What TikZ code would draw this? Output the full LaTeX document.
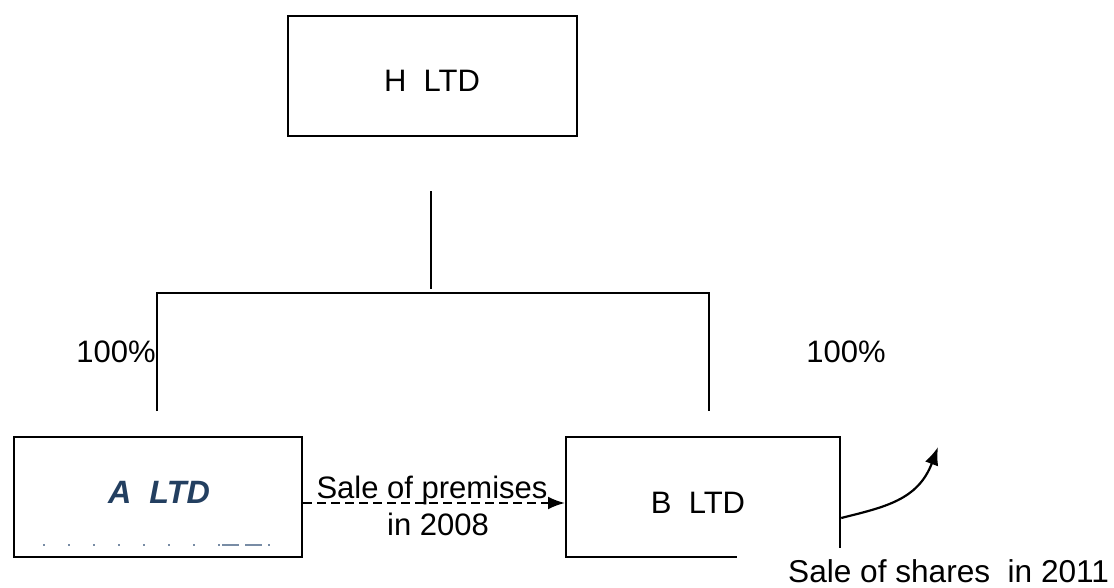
\documentclass[tikz,border=0pt]{standalone}
\usepackage{fontspec}
\setmainfont{Liberation Sans}
\usetikzlibrary{arrows.meta}
\definecolor{abluetext}{RGB}{35,63,96}
\definecolor{afaint}{RGB}{120,140,165}
\tikzset{
  boxnode/.style={draw=black, line width=2.2pt, inner sep=0pt, anchor=north west},
  lbl/.style={inner sep=0pt, anchor=base, font=\fontsize{31}{37}\selectfont},
  treeline/.style={line width=2.2pt, line cap=rect},
  arr/.style={line width=2.2pt, -{Latex[length=18pt,width=14pt]}},
}
\begin{document}
\begin{tikzpicture}[x=1pt,y=-1pt]
\useasboundingbox (0,0) rectangle (1114,588);
% boxes
\node[boxnode, minimum width=289pt, minimum height=120pt] (hbox) at (287,15) {};
\node[boxnode, minimum width=288pt, minimum height=120pt] (abox) at (13,436) {};
\node[boxnode, minimum width=274pt, minimum height=120pt] (bbox) at (565,436) {};
% box texts
\node[lbl] (htext) at (432,92) {H~~LTD};
\node[lbl, font=\fontsize{32.3}{38}\selectfont\bfseries\itshape, text=abluetext] (atext) at (159,503) {A~~LTD};
\node[lbl] (btext) at (698,513) {B~~LTD};
% faint clipped remnant in A box
\coordinate (fa) at (43,545);
\coordinate (fb) at (222,545);
\coordinate (fc) at (270,545);
\draw[afaint, line width=1.5pt, dash pattern=on 2pt off 23pt] (fa) -- (fb);
\draw[afaint, line width=1.5pt, dash pattern=on 17pt off 6pt] (fb) -- (fc);
% tree
\coordinate (t1) at (431,192);
\coordinate (t2) at (431,288);
\coordinate (hl) at (157,293);
\coordinate (hr) at (709,293);
\coordinate (ld) at (157,411);
\coordinate (rd) at (709,411);
\draw[treeline] (t1) -- (t2);
\draw[line width=2.2pt] (ld) -- (hl) -- (hr) -- (rd);
\node[lbl] (pa) at (116,362) {100\%};
\node[lbl] (pb) at (846,362) {100\%};
% sale of premises
\draw[line width=2.2pt, dash pattern=on 9pt off 5pt, -{Latex[length=17pt,width=13pt]}] (abox.east |- 0,503) -- (bbox.west |- 0,503);
\node[lbl] (sp1) at (432,498) {Sale of premises};
\node[lbl] (sp2) at (438,535) {in 2008};
% curved arrow
\coordinate (ce) at (938,447);
\draw[arr] (bbox.east |- 0,518) .. controls (885,507) and (918,500) .. (ce);
% white cover with sale of shares text
\node[fill=white, inner sep=0pt, anchor=north west, minimum width=377pt, minimum height=41pt] (cover) at (737,547.5) {};
\node[lbl, anchor=base west, font=\fontsize{31.6}{37}\selectfont] (ss) at (788,582) {Sale of shares~~in 2011};
\end{tikzpicture}
\end{document}
